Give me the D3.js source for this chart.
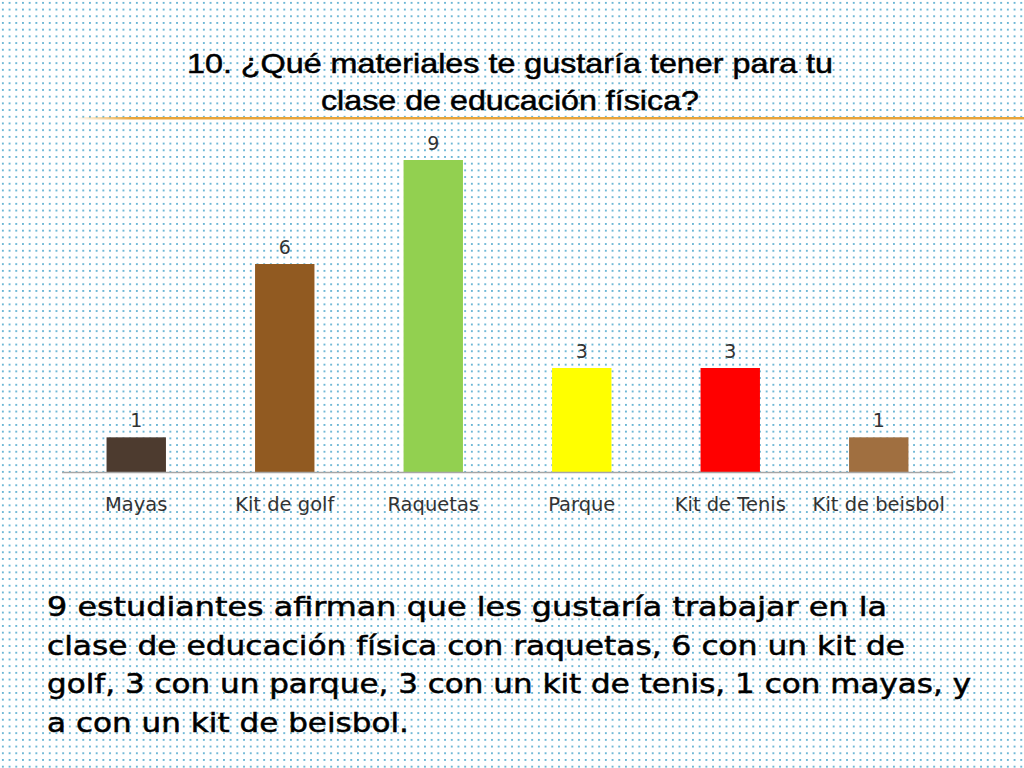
<!DOCTYPE html>
<html><head><meta charset="utf-8">
<script src="https://cdn.jsdelivr.net/npm/d3@7"></script>
<style>html,body{margin:0;padding:0;background:#fff;}svg{display:block;}</style>
</head><body>
<svg id="c" width="1024" height="768"></svg>
<script>
const categories = ["Mayas", "Kit de golf", "Raquetas", "Parque", "Kit de Tenis", "Kit de beisbol"];
const values = [1, 6, 9, 3, 3, 1];
const colors = ["#4d3b2f", "#915a21", "#92d050", "#ffff00", "#ff0000", "#a06f40"];
const titleLines = ["10. ¿Qué materiales te gustaría tener para tu", "clase de educación física?"];
const bodyLines = [
  "9 estudiantes afirman que les gustaría trabajar en la",
  "clase de educación física con raquetas, 6 con un kit de",
  "golf, 3 con un parque, 3 con un kit de tenis,  1 con mayas, y",
  "a con un kit de beisbol."
];

const svg = d3.select("#c");
const defs = svg.append("defs");
const pat = defs.append("pattern").attr("id","dots").attr("patternUnits","userSpaceOnUse")
  .attr("width",6.7).attr("height",6.7);
pat.append("rect").attr("x",2).attr("y",2).attr("width",1.7).attr("height",1.7).attr("fill","#4aa6cc");
const grad = defs.append("linearGradient").attr("id","og").attr("x1","0").attr("x2","1");
grad.append("stop").attr("offset","0").attr("stop-color","#f0b040").attr("stop-opacity",0);
grad.append("stop").attr("offset","0.06").attr("stop-color","#e9a53a").attr("stop-opacity",1);
grad.append("stop").attr("offset","1").attr("stop-color","#e9a53a").attr("stop-opacity",1);

svg.append("rect").attr("width",1024).attr("height",768).attr("fill","url(#dots)");

// title
svg.append("g").selectAll("text").data(titleLines).join("text")
  .attr("x",510).attr("y",(d,i)=>73+i*37).attr("text-anchor","middle")
  .attr("font-family","Liberation Sans, Arial, sans-serif").attr("font-size",28)
  .attr("fill","#000").attr("stroke","#000").attr("stroke-width",0.5)
  .attr("textLength",(d,i)=>i===0?646:378).attr("lengthAdjust","spacingAndGlyphs")
  .text(d=>d);

svg.append("rect").attr("x",75).attr("y",117).attr("width",949).attr("height",2.5).attr("fill","url(#og)");

const x = d3.scaleBand().domain(categories).range([62,953]).paddingInner(0.6).paddingOuter(0.3);
const y = d3.scaleLinear().domain([0,9]).range([472,160]);

svg.append("g").selectAll("rect").data(categories).join("rect")
  .attr("x",d=>x(d)).attr("width",x.bandwidth())
  .attr("y",(d,i)=>y(values[i])).attr("height",(d,i)=>y(0)-y(values[i]))
  .attr("fill",(d,i)=>colors[i]);

const ax = svg.append("g").attr("transform","translate(0,472)")
  .call(d3.axisBottom(x).tickSize(0).tickPadding(25));
ax.select(".domain").attr("stroke","#a6a6a6").attr("stroke-width",1.3).attr("d","M62,0.5H953");
ax.selectAll("text").attr("font-family","'DejaVu Sans', sans-serif").attr("font-size",19.5).attr("fill","#333");

svg.append("g").selectAll("text").data(categories).join("text")
  .attr("x",d=>x(d)+x.bandwidth()/2).attr("y",(d,i)=>y(values[i])-10)
  .attr("text-anchor","middle").attr("font-family","'DejaVu Sans', sans-serif")
  .attr("font-size",19).attr("fill","#333").text((d,i)=>values[i]);

svg.append("g").selectAll("text").data(bodyLines).join("text")
  .attr("x",47).attr("y",(d,i)=>616+i*38.5)
  .attr("font-family","'DejaVu Sans', sans-serif").attr("font-size",27).attr("fill","#000")
  .attr("stroke","#000").attr("stroke-width",0.5)
  .attr("textLength",(d,i)=>[840,858,924,362][i]).attr("lengthAdjust","spacingAndGlyphs")
  .text(d=>d);
</script>
</body></html>
